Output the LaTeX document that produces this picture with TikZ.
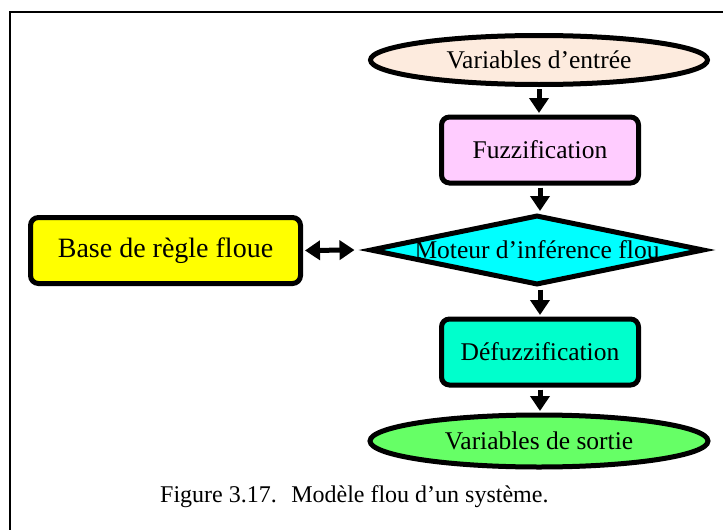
\documentclass[tikz,border=0pt]{standalone}
\usepackage{fontspec}
\setmainfont{Liberation Serif}
\usetikzlibrary{shapes.geometric,arrows.meta}
\definecolor{cin}{RGB}{253,235,222}
\definecolor{cfuzz}{RGB}{255,204,255}
\definecolor{cdiam}{RGB}{0,255,255}
\definecolor{cbase}{RGB}{255,255,0}
\definecolor{cdefuzz}{RGB}{0,255,204}
\definecolor{cout}{RGB}{102,255,102}
\begin{document}
\begin{tikzpicture}[x=1pt,y=-1pt,
  txt/.style={font=\fontsize{25.5}{30}\selectfont},
  box/.style={draw,line width=5pt,rounded corners=8pt,inner sep=0pt,minimum width=197pt,minimum height=66pt,txt},
  ell/.style={draw,ellipse,line width=5pt,inner sep=0pt,txt},
  arr/.style={line width=5pt,-{Triangle[width=19pt 0,length=15pt 0]},shorten >=1.5pt,shorten <=2pt},
  darr/.style={line width=5pt,{Triangle[width=19pt 0,length=15pt 0]}-{Triangle[width=19pt 0,length=15pt 0]},shorten <=2pt},
  frame/.style={line width=2.5pt}
]
\useasboundingbox (0,0) rectangle (723,530);
\draw[frame] (10,530) -- (10,12) -- (723,12);

\node[ell,fill=cin,minimum width=337pt,minimum height=49pt] (vin) at (539,60) {Variables d’entrée};
\node[box,fill=cfuzz] (fuzz) at (540,150) {Fuzzification};
\node[draw,diamond,line width=5pt,inner sep=0pt,fill=cdiam,minimum width=334pt,minimum height=70pt,txt] (diam) at (537,250) {\makebox[0pt]{Moteur d’inférence flou}};
\node[box,fill=cbase,minimum width=270pt,font=\fontsize{28}{33}\selectfont] (base) at (165.5,250.5) {Base de règle floue};
\node[box,fill=cdefuzz] (defuzz) at (540,352) {Défuzzification};
\node[ell,fill=cout,minimum width=338pt,minimum height=52pt] (vout) at (539,441) {Variables de sortie};
\node[anchor=west,inner sep=0pt,font=\fontsize{24}{28}\selectfont] (cap) at (160,497) {Figure 3.17.\hspace{0.6em}Modèle flou d’un système.};
\coordinate (dtip) at ([xshift=-13pt]diam.west);

\draw[arr] (vin.south) -- (vin.south |- fuzz.north);
\draw[arr] (fuzz.south) -- (fuzz.south |- diam.north);
\draw[arr] (diam.south -| defuzz.north) -- (defuzz.north);
\draw[arr] (defuzz.south) -- (defuzz.south |- vout.north);
\draw[darr] (base.east) -- (dtip);
\end{tikzpicture}
\end{document}
